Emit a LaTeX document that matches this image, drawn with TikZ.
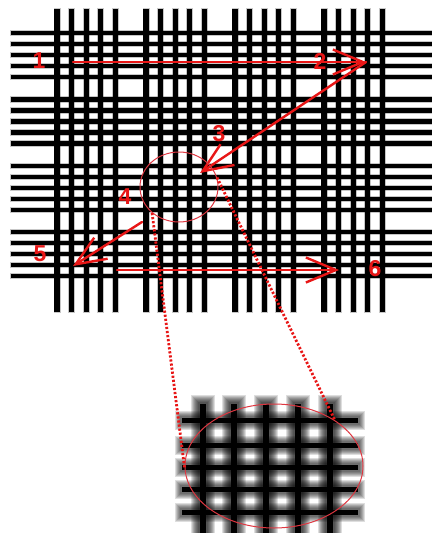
\documentclass[tikz,border=0pt]{standalone}
\usepackage{fontspec}
\setmainfont{Liberation Sans}
\usetikzlibrary{arrows.meta,shapes.geometric}
\definecolor{annred}{RGB}{232,22,22}
\definecolor{ringred}{RGB}{222,55,65}
\begin{document}
\begin{tikzpicture}[x=1pt,y=-1pt,
  numlabel/.style={text=annred,font=\bfseries\fontsize{23}{23}\selectfont,inner sep=0pt},
  pathline/.style={draw=annred,line width=2.4pt,line cap=round,
    -{Straight Barb[length=30pt,width=25pt,line width=2.4pt]}},
  zoomlink/.style={draw=annred,line width=2.8pt,dash pattern=on 2.2pt off 1.9pt},
  ringstyle/.style={draw=ringred,line width=1pt,ellipse,inner sep=0pt},
  vthread/.style={black,line width=5.2pt},
  vhalo/.style={black,opacity=.22,line width=7pt},
  hthread/.style={black,line width=4.4pt},
  hhalo/.style={black,opacity=.22,line width=6.2pt},
  soft/.style={black,opacity=.13,line width=#1}]
\useasboundingbox (0,0) rectangle (432,533);
% ---- top fabric grid
\foreach \g in {0,...,3}{\foreach \i in {0,...,4}{
  \pgfmathsetmacro\xx{57+89*\g+14.6*\i}
  \draw[vhalo] (\xx,8) -- (\xx,313);
  \draw[vthread] (\xx,9) -- (\xx,312);
}}
\foreach \g in {0,...,3}{\foreach \i in {0,...,4}{
  \pgfmathsetmacro\yy{33+66.4*\g+11*\i}
  \draw[hhalo] (10,\yy) -- (432,\yy);
  \draw[hthread] (11,\yy) -- (432,\yy);
}}
% ---- bottom magnified image
\begin{scope}
\clip (172,392) rectangle (368,533);
\foreach \xx in {203,234,266,298,330}{
  \foreach \w/\t in {24/395,22/396,20/397,18/398,16/399,14/400,12/401,10/402}{
    \draw[soft=\w pt] (\xx,\t) -- (\xx,533);
  }
  \draw[black,line width=6pt] (\xx,404) -- (\xx,533);
}
\foreach \yy in {420,445,467,489,512}{
  \foreach \w/\t in {19/0,17/1,15/2,13/3,11/4,9/5}{
    \draw[soft=\w pt] (175+\t,\yy) -- (365-\t,\yy);
  }
  \draw[black,line width=5pt] (182,\yy) -- (358,\yy);
}
\end{scope}
% ---- annotations
\node[numlabel] (n1) at (39,61) {1};
\node[numlabel] (n2) at (320,61) {2};
\node[numlabel] (n3) at (219,134) {3};
\node[numlabel] (n4) at (125,197) {4};
\node[numlabel] (n5) at (40,254) {5};
\node[numlabel] (n6) at (375,269) {6};
\coordinate (a1s) at (73,62);
\coordinate (a1e) at (366,62);
\coordinate (a3e) at (200,173);
\coordinate (a4s) at (142,222);
\coordinate (a4e) at (73,266);
\coordinate (a5s) at (117,270);
\coordinate (a5e) at (339,270);
\draw[pathline] (a1s) -- (a1e);
\draw[pathline] (a1e) -- (a3e);
\draw[pathline] (a4s) -- (a4e);
\draw[pathline] (a5s) -- (a5e);
\node[ringstyle,minimum width=78pt,minimum height=70pt] (ring) at (179,187) {};
\node[ringstyle,minimum width=178pt,minimum height=124pt] (zoomring) at (274,466) {};
\draw[zoomlink] (ring.224) -- (zoomring.181);
\draw[zoomlink] (ring.14) -- (zoomring.37);
\end{tikzpicture}
\end{document}
